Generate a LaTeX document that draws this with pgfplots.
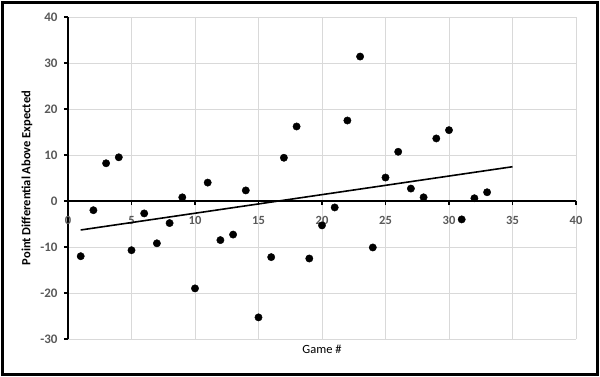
\documentclass[border=0pt]{standalone}
\usepackage{fontspec}
\setmainfont{Carlito}
\usepackage{pgfplots}
\pgfplotsset{compat=1.18}
\definecolor{tickgray}{HTML}{595959}
\definecolor{gridgray}{HTML}{D9D9D9}
\begin{document}
\begin{tikzpicture}
\useasboundingbox (0,0) rectangle (600bp,377bp);
\begin{axis}[
  at={(68bp,38bp)}, anchor=south west,
  scale only axis, width=508bp, height=322bp,
  xmin=0, xmax=40, ymin=-30, ymax=40,
  xtick={0,5,...,40}, ytick={-30,-20,...,40},
  axis lines=middle,
  axis line style={-, black, line width=2.2bp},
  hide obscured x ticks=false, hide obscured y ticks=false,
  grid=major, grid style={gridgray, line width=0.8bp},
  tick align=outside, major tick length=4bp,
  tick style={black, line width=1.5bp},
  /pgf/number format/assume math mode=true,
  xticklabel style={font=\bfseries\fontsize{12.5bp}{14bp}\selectfont, text=tickgray, yshift=-8bp},
  yticklabel style={font=\bfseries\fontsize{13bp}{15bp}\selectfont, text=tickgray, xshift=-3bp},
  every axis x label/.style={at={(axis description cs:0.5,0)}, anchor=north, yshift=-3bp, font=\fontsize{12.5bp}{14bp}\selectfont},
  every axis y label/.style={at={(axis description cs:-0.0807,0.5)}, rotate=90, anchor=center, font=\bfseries\fontsize{12.5bp}{14bp}\selectfont},
  xlabel={Game \#},
  ylabel={Point Differential Above Expected},
  clip=false,
]
\addplot[only marks, mark=*, mark size=3.7pt, black] coordinates {
(1,-12.0) (2,-2.0) (3,8.2) (4,9.5) (5,-10.7) (6,-2.7) (7,-9.2) (8,-4.8)
(9,0.8) (10,-19.0) (11,4.0) (12,-8.5) (13,-7.3) (14,2.3) (15,-25.3) (16,-12.2)
(17,9.4) (18,16.2) (19,-12.5) (20,-5.3) (21,-1.4) (22,17.5) (23,31.4) (24,-10.1)
(25,5.1) (26,10.7) (27,2.7) (28,0.8) (29,13.6) (30,15.4) (31,-4.0) (32,0.6) (33,1.9)
};
\addplot[black, line width=1.6bp] coordinates {(1,-6.3) (35,7.45)};
\end{axis}
\draw[line width=3.5bp] (2.5bp,2.5bp) rectangle (597.5bp,374.5bp);
\end{tikzpicture}
\end{document}
